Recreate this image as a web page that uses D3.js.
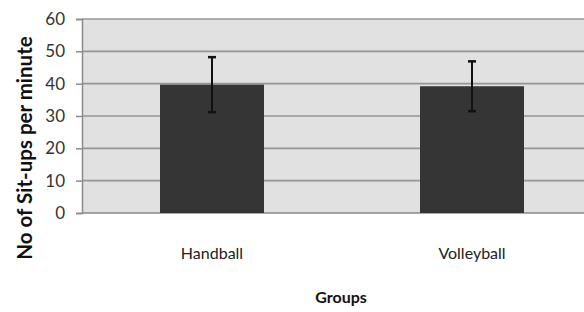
<!DOCTYPE html>
<html>
<head>
<meta charset="utf-8">
<script src="https://cdn.jsdelivr.net/npm/d3@7"></script>
<style>
  body { margin: 0; background: #fff; }
  svg text { font-family: Lato, "Open Sans", sans-serif; }
</style>
</head>
<body>
<div id="chart"></div>
<script>
// data
const groups = ["Handball", "Volleyball"];
const means = [39.7, 39.2];
const sds = [8.5, 7.7];
const yTicks = [0, 10, 20, 30, 40, 50, 60];

const W = 584, H = 312;
const margin = { top: 19, right: -18, bottom: 99, left: 82 };
const width = W - margin.left - margin.right;
const height = H - margin.top - margin.bottom;

const svg = d3.select("#chart").append("svg")
    .attr("width", W)
    .attr("height", H);

const g = svg.append("g")
    .attr("transform", `translate(${margin.left},${margin.top})`);

const x = d3.scaleBand()
    .domain(groups)
    .range([0, width])
    .paddingInner(0.6)
    .paddingOuter(0.3);

const y = d3.scaleLinear()
    .domain([0, 60])
    .range([height, 0]);

// plot background
g.append("rect")
    .attr("width", width)
    .attr("height", height)
    .attr("fill", "#e1e1e1");

// gridlines
g.selectAll(".grid")
    .data(yTicks.slice(1))
    .enter().append("line")
    .attr("x1", 0)
    .attr("x2", width)
    .attr("y1", d => y(d))
    .attr("y2", d => y(d))
    .attr("stroke", "#959595")
    .attr("stroke-width", 1.6);

// y axis
const yAxis = g.append("g")
    .call(d3.axisLeft(y).tickValues(yTicks).tickSize(6).tickPadding(11));
yAxis.select(".domain").attr("stroke", "#8a8a8a").attr("stroke-width", 1.5);
yAxis.selectAll(".tick line").attr("stroke", "#8a8a8a").attr("stroke-width", 1.5);
yAxis.selectAll("text")
    .style("font-size", "17px")
    .attr("fill", "#333");

// baseline
g.append("line")
    .attr("x1", 0).attr("x2", width)
    .attr("y1", height).attr("y2", height)
    .attr("stroke", "#8a8a8a")
    .attr("stroke-width", 1.5);

// bars
g.selectAll(".bar")
    .data(groups)
    .enter().append("rect")
    .attr("x", d => x(d))
    .attr("width", x.bandwidth())
    .attr("y", (d, i) => y(means[i]))
    .attr("height", (d, i) => height - y(means[i]))
    .attr("fill", "#353535");

// error bars
const eb = g.selectAll(".err")
    .data(groups)
    .enter().append("g")
    .attr("transform", d => `translate(${x(d) + x.bandwidth() / 2},0)`);
eb.append("line")
    .attr("y1", (d, i) => y(means[i] + sds[i]))
    .attr("y2", (d, i) => y(means[i] - sds[i]))
    .attr("stroke", "#111")
    .attr("stroke-width", 2);
eb.append("line")
    .attr("x1", -4).attr("x2", 4)
    .attr("y1", (d, i) => y(means[i] + sds[i]))
    .attr("y2", (d, i) => y(means[i] + sds[i]))
    .attr("stroke", "#111")
    .attr("stroke-width", 2.5);
eb.append("line")
    .attr("x1", -4).attr("x2", 4)
    .attr("y1", (d, i) => y(means[i] - sds[i]))
    .attr("y2", (d, i) => y(means[i] - sds[i]))
    .attr("stroke", "#111")
    .attr("stroke-width", 2.5);

// category labels
g.selectAll(".cat")
    .data(groups)
    .enter().append("text")
    .attr("x", d => x(d) + x.bandwidth() / 2)
    .attr("y", height + 46)
    .attr("text-anchor", "middle")
    .style("font-size", "16px")
    .attr("fill", "#222")
    .text(d => d);

// axis titles
svg.append("text")
    .attr("x", 341)
    .attr("y", 303)
    .attr("text-anchor", "middle")
    .style("font-size", "16px")
    .style("font-weight", "bold")
    .attr("fill", "#111")
    .text("Groups");

svg.append("text")
    .attr("transform", "translate(32,148) rotate(-90)")
    .attr("text-anchor", "middle")
    .style("font-size", "20.5px")
    .style("font-weight", "bold")
    .attr("fill", "#111")
    .text("No of Sit-ups per minute");
</script>
</body>
</html>
